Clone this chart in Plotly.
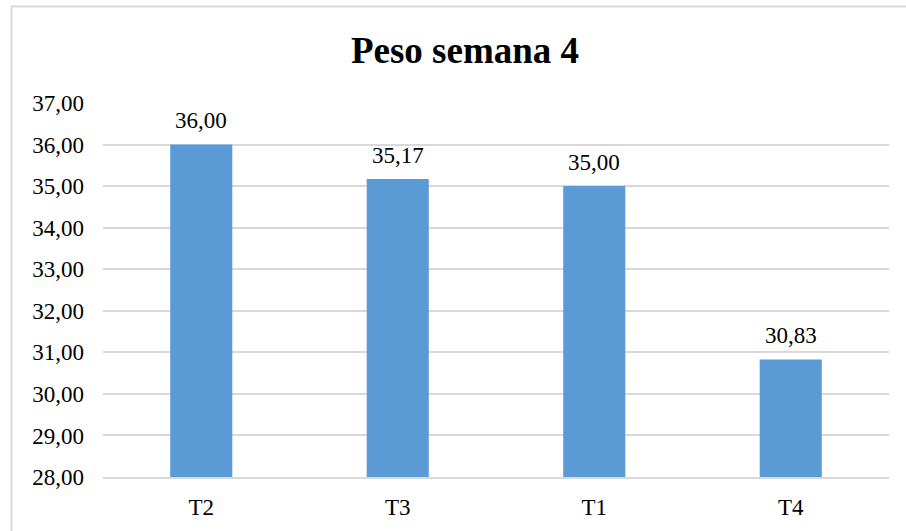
import plotly.graph_objects as go

categories = ["T2", "T3", "T1", "T4"]
values = [36.00, 35.17, 35.00, 30.83]
y_ticks = [28, 29, 30, 31, 32, 33, 34, 35, 36, 37]

FF = "Times New Roman, Liberation Serif, serif"

fig = go.Figure()
fig.add_trace(go.Bar(
    x=categories, y=values,
    marker=dict(color="#5B9BD5", line=dict(width=0)),
    hoverinfo="skip",
))

for c, v in zip(categories, values):
    fig.add_annotation(x=c, y=v, text=f"{v:.2f}".replace(".", ","),
                       showarrow=False, yshift=24,
                       font=dict(family=FF, size=23, color="#000000"))

W, H = 906, 531
fig.update_layout(
    width=W, height=H,
    margin=dict(l=103, r=17, t=103, b=54),
    paper_bgcolor="white", plot_bgcolor="white",
    separators=",.",
    showlegend=False,
    bargap=0.684,
    title=dict(text="<b>Peso semana 4</b>", x=465 / W, xref="container", xanchor="center",
               y=1 - 50 / H, yref="container", yanchor="middle",
               font=dict(family=FF, size=37, color="#000000")),
    font=dict(family=FF, size=23, color="#000000"),
    xaxis=dict(showgrid=False, showline=True, linecolor="#d9d9d9", linewidth=2,
               ticks="", tickfont=dict(family=FF, size=23, color="#000000"),
               ticklabelstandoff=8),
    yaxis=dict(range=[28, 37], tickvals=y_ticks, tickformat=".2f",
               showgrid=True, gridcolor="#d9d9d9", gridwidth=2,
               zeroline=False, showline=False, ticks="",
               tickfont=dict(family=FF, size=23, color="#000000"),
               ticklabelstandoff=18),
    shapes=[dict(type="rect", xref="paper", yref="paper",
                 x0=(11.5 - 103) / 786, x1=1.3, y0=-0.5, y1=(477 - 6.5) / 374,
                 line=dict(color="#d9d9d9", width=2), fillcolor="rgba(0,0,0,0)",
                 layer="below")],
)

fig.write_html("out.html",
               config={"displayModeBar": False, "staticPlot": True},
               post_script="document.body.style.margin='0';document.body.style.padding='0';")
